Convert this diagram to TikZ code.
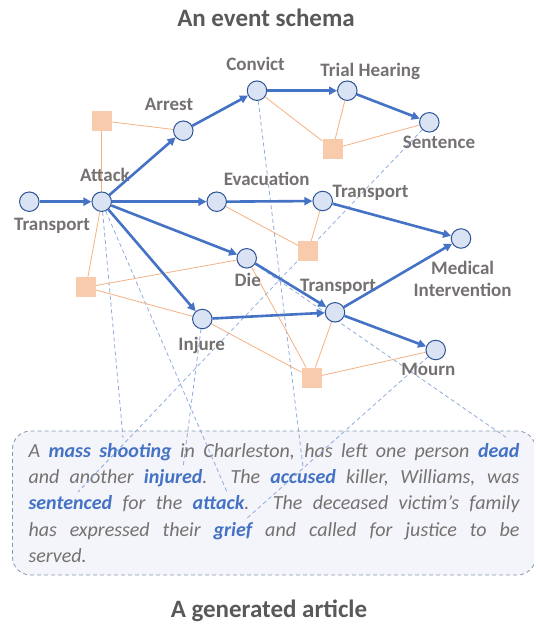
\documentclass[tikz,border=0pt]{standalone}
\usepackage{fontspec}
\setmainfont{Carlito}
\usetikzlibrary{arrows.meta,backgrounds}
\definecolor{evfill}{HTML}{DAE3F3}
\definecolor{evdraw}{HTML}{2F5597}
\definecolor{flowblue}{HTML}{4472C4}
\definecolor{argfill}{HTML}{F8CBAD}
\definecolor{argline}{HTML}{F4B183}
\definecolor{linkblue}{HTML}{8FAADC}
\definecolor{boxfill}{HTML}{F3F5FA}
\definecolor{boxline}{HTML}{8497B0}
\definecolor{labelgray}{HTML}{767171}
\definecolor{titlegray}{HTML}{595959}
\newcommand{\keyw}[1]{\textcolor{flowblue}{\textbf{#1}}}
\begin{document}
\begin{tikzpicture}
                        [x=1pt,y=-1pt,
                        ev/.style={circle,draw=evdraw,fill=evfill,line width=1pt,minimum size=19.5pt,inner sep=0pt},
                        arg/.style={rectangle,fill=argfill,minimum size=20pt,inner sep=0pt},
                        lbl/.style={font=\fontsize{19}{22.5}\selectfont\bfseries,text=labelgray,inner sep=0pt},
                        head/.style={font=\fontsize{25}{28}\selectfont\bfseries,text=titlegray,inner sep=0pt,anchor=base},
                        flow/.style={draw=flowblue,line width=2.6pt,-{Triangle[length=8pt,width=8pt]}},
                        role/.style={draw=argline,line width=0.8pt},
                        link/.style={draw=linkblue,line width=0.8pt,dash pattern=on 4pt off 3pt},
                        article/.style={draw=boxline,line width=0.8pt,dash pattern=on 4pt off 3pt,fill=boxfill,
                          rounded corners=18pt,text width=491pt,inner xsep=16pt,minimum height=144pt,
                          align=justify,font=\fontsize{20}{26.25}\selectfont\itshape,text=labelgray}]
                        \useasboundingbox (0,0) rectangle (533,624);
                        %Titel
                        \node [head] (schema) at (266,26.7) {An event schema};
                        \node [head] (generated) at (269,617.5) {A generated article};
                        %Ereignisse
                        \node [ev] (transport1) at (29.3,201.7) {};
                        \node [ev] (attack) at (101.7,201.7) {};
                        \node [ev] (arrest) at (183.3,130.7) {};
                        \node [ev] (convict) at (257,90.7) {};
                        \node [ev] (trial) at (347.3,90.7) {};
                        \node [ev] (sentence) at (429.3,122.3) {};
                        \node [ev] (evacuation) at (216.7,201.7) {};
                        \node [ev] (transport2) at (322.7,201) {};
                        \node [ev] (medical) at (461,238.5) {};
                        \node [ev] (die) at (246.7,258.3) {};
                        \node [ev] (injure) at (202.3,319) {};
                        \node [ev] (transport3) at (335,312.3) {};
                        \node [ev] (mourn) at (435.7,350) {};
                        %Beschriftungen
                        \node [lbl,anchor=base] (transport1-l) at (52,230) {Transport};
                        \node [lbl,anchor=base] (attack-l) at (105,181.7) {Attack};
                        \node [lbl,anchor=base] (arrest-l) at (169,110) {Arrest};
                        \node [lbl,anchor=base] (convict-l) at (255.5,70.5) {Convict};
                        \node [lbl,anchor=base] (trial-l) at (370.3,76.7) {Trial Hearing};
                        \node [lbl,anchor=base] (sentence-l) at (439,148.3) {Sentence};
                        \node [lbl,anchor=base] (evacuation-l) at (266.7,185) {Evacuation};
                        \node [lbl,anchor=base] (transport2-l) at (370.5,197.7) {Transport};
                        \node [lbl,align=center] (medical-l) at (462.6,279) {Medical\\Intervention};
                        \node [lbl,anchor=base] (die-l) at (247.8,286.7) {Die};
                        \node [lbl,anchor=base] (injure-l) at (201.7,350) {Injure};
                        \node [lbl,anchor=base] (transport3-l) at (338,291.7) {Transport};
                        \node [lbl,anchor=base] (mourn-l) at (428.3,375.7) {Mourn};
                        %Argumente
                        \node [arg] (a1) at (101.7,120.7) {};
                        \node [arg] (a2) at (332.7,149) {};
                        \node [arg] (a3) at (86,287.3) {};
                        \node [arg] (a4) at (308.3,251) {};
                        \node [arg] (a5) at (311.7,377.7) {};
                        %Woerter im Text
                        \coordinate (w-mass) at (123,438);
                        \coordinate (w-dead) at (507,438);
                        \coordinate (w-injured) at (183,468);
                        \coordinate (w-accused) at (303,467);
                        \coordinate (w-sentenced) at (78,492);
                        \coordinate (w-attack) at (227,492);
                        \coordinate (w-grief) at (245,520);
                        \begin{scope}[on background layer]
                        %Artikel
                        \node [article] (story) at (274,503) {A \keyw{mass shooting} in Charleston, has left one person \keyw{dead}\linebreak
                          and another \keyw{injured}. The \keyw{accused} killer, Williams, was\linebreak
                          \keyw{sentenced} for the \keyw{attack}. The deceased victim’s family\linebreak
                          has expressed their \keyw{grief} and called for justice to be\linebreak
                          served.};
                        %Verweise
                        \draw [link] (attack) -- (w-mass);
                        \draw [link] (attack) -- (w-attack);
                        \draw [link] (convict) -- (w-accused);
                        \draw [link] (injure) -- (w-injured);
                        \draw [link] (sentence) -- (w-sentenced);
                        \draw [link] (die) -- (w-dead);
                        \draw [link] (mourn) -- (w-grief);
                        %Rollen
                        \draw [role] (a1) -- (arrest);
                        \draw [role] (a1) -- (attack);
                        \draw [role] (a2) -- (convict);
                        \draw [role] (a2) -- (trial);
                        \draw [role] (a2) -- (sentence);
                        \draw [role] (a3) -- (attack);
                        \draw [role] (a3) -- (die);
                        \draw [role] (a3) -- (injure);
                        \draw [role] (a4) -- (evacuation);
                        \draw [role] (a4) -- (transport2);
                        \draw [role] (a5) -- (die);
                        \draw [role] (a5) -- (injure);
                        \draw [role] (a5) -- (transport3);
                        \draw [role] (a5) -- (mourn);
                        \end{scope}
                        %Abfolge
                        \draw [flow] (transport1) -- (attack);
                        \draw [flow] (attack) -- (arrest);
                        \draw [flow] (arrest) -- (convict);
                        \draw [flow] (convict) -- (trial);
                        \draw [flow] (trial) -- (sentence);
                        \draw [flow] (attack) -- (evacuation);
                        \draw [flow] (evacuation) -- (transport2);
                        \draw [flow] (transport2) -- (medical);
                        \draw [flow] (attack) -- (die);
                        \draw [flow] (attack) -- (injure);
                        \draw [flow] (die) -- (transport3);
                        \draw [flow] (injure) -- (transport3);
                        \draw [flow] (transport3) -- (medical);
                        \draw [flow] (transport3) -- (mourn);
                \end{tikzpicture}
\end{document}
